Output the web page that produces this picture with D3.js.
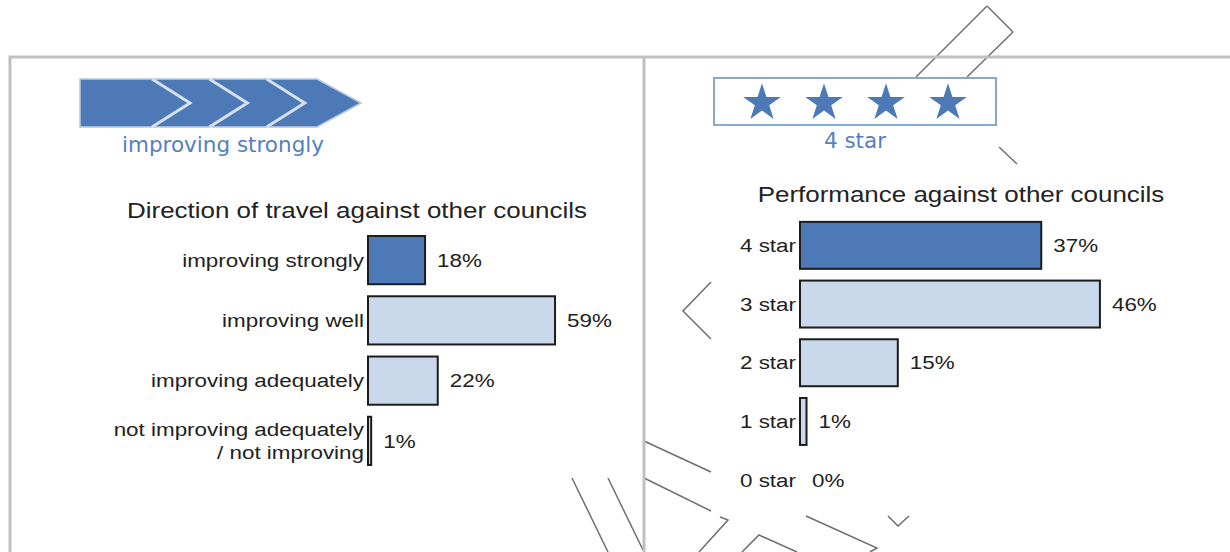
<!DOCTYPE html>
<meta charset="utf-8">
<style>
  body { margin: 0; background: #fff; }
  text.title { font-family: 'Liberation Sans', Arial, sans-serif; font-size: 22px; fill: #222; text-anchor: middle; }
  text.cat { font-family: 'Liberation Sans', Arial, sans-serif; font-size: 19px; fill: #222; text-anchor: end; }
  text.val { font-family: 'Liberation Sans', Arial, sans-serif; font-size: 19px; fill: #222; }
  text.badge { font-family: 'DejaVu Sans', Verdana, sans-serif; font-size: 21.5px; fill: #5480bf; text-anchor: middle; }
</style>
<script src="https://d3js.org/d3.v7.min.js"></script>
<div id="my_dataviz"></div>
<script>

// data
var travelCats = ["improving strongly", "improving well", "improving adequately", "not improving adequately\n/ not improving"];
var travelVals = [18, 59, 22, 1];
var starCats = ["4 star", "3 star", "2 star", "1 star", "0 star"];
var starVals = [37, 46, 15, 1, 0];
var travelBadge = "improving strongly";
var starBadge = "4 star";
var starCount = 4;
var chevronCount = 3;

// stray outline lines in the background of the picture
var decoLines = [
  [[987, 6], [1013, 32]], [[987, 6], [916, 77]], [[1013, 32], [967, 77]],
  [[999, 147], [1017, 164]],
  [[711, 282], [683, 311], [711, 339]],
  [[644, 441], [711, 472]], [[644, 478], [711, 511]],
  [[720, 517], [728, 520], [699, 552]],
  [[572, 478], [608, 552]], [[608, 478], [643, 550]],
  [[742, 552], [759, 535], [797, 552]],
  [[806, 516], [877, 548], [870, 552]],
  [[888, 516], [898, 526], [909, 516]]
];

var W = 1230, H = 552;
var darkBlue = "#4d79b6", lightBlue = "#c9d8ea";
var stretch = 1.18;   // chart lettering is drawn a bit wide

var svg = d3.select("#my_dataviz")
  .append("svg")
    .attr("width", W)
    .attr("height", H);

// background lines
svg.selectAll("path.deco")
  .data(decoLines)
  .enter()
  .append("path")
    .attr("class", "deco")
    .attr("d", d3.line())
    .attr("fill", "none")
    .attr("stroke", "#6e6e6e")
    .attr("stroke-width", 1.5);

// frame
svg.append("path")
  .attr("d", "M10,552 V57 H1230 M644,57 V552")
  .attr("fill", "none")
  .attr("stroke", "#c0c0c0")
  .attr("stroke-width", 3);

// ---------- left panel: direction of travel badge ----------
var ax0 = 80, ax1 = 317, atip = 361, ay0 = 79, ay1 = 127, amid = 103;
svg.append("polygon")
  .attr("points", [[ax0, ay0], [ax1, ay0], [atip, amid], [ax1, ay1], [ax0, ay1]].join(" "))
  .attr("fill", darkBlue)
  .attr("stroke", "#b7c9e3")
  .attr("stroke-width", 1.5);

var chevX = d3.scaleLinear().domain([0, chevronCount]).range([190, atip + 1]);
svg.selectAll("path.chev")
  .data(d3.range(chevronCount))
  .enter()
  .append("path")
    .attr("class", "chev")
    .attr("d", function(i) {
      var t = chevX(i);
      return "M" + (t - 38) + "," + ay0 + " L" + t + "," + amid + " L" + (t - 38) + "," + ay1;
    })
    .attr("fill", "none")
    .attr("stroke", "#d6e1f1")
    .attr("stroke-width", 3);

svg.append("text")
  .attr("class", "badge")
  .attr("x", 223)
  .attr("y", 152)
  .text(travelBadge);

// ---------- right panel: star badge ----------
svg.append("rect")
  .attr("x", 714)
  .attr("y", 78)
  .attr("width", 282)
  .attr("height", 47)
  .attr("fill", "#fff")
  .attr("stroke", "#86a8d5")
  .attr("stroke-width", 2);

var starX = d3.scalePoint().domain(d3.range(starCount)).range([762, 948]);
var star = d3.symbol().type(d3.symbolStar).size(440);
svg.selectAll("path.star")
  .data(d3.range(starCount))
  .enter()
  .append("path")
    .attr("class", "star")
    .attr("d", star)
    .attr("transform", function(i) { return "translate(" + starX(i) + ",103)"; })
    .attr("fill", darkBlue);

svg.append("text")
  .attr("class", "badge")
  .attr("x", 855)
  .attr("y", 148)
  .text(starBadge);

// ---------- bar chart helper ----------
function wide(x, y) { return "translate(" + x + "," + y + ") scale(" + stretch + ",1)"; }

function barChart(g, cats, vals, opt) {
  var x = d3.scaleLinear().domain([0, 100]).range([opt.x0, opt.x0 + opt.perCent * 100]);
  var y = d3.scaleBand()
    .domain(cats)
    .range(opt.yRange)
    .paddingInner(0.2)
    .paddingOuter(0.1);
  var rows = cats.map(function(c, i) { return {cat: c, val: vals[i], i: i}; });

  g.append("text")
    .attr("class", "title")
    .attr("transform", wide(opt.titleX, opt.titleY))
    .text(opt.title);

  g.selectAll("rect.bar")
    .data(rows.filter(function(d) { return d.val > 0; }))
    .enter()
    .append("rect")
      .attr("class", "bar")
      .attr("x", x(0))
      .attr("y", function(d) { return y(d.cat); })
      .attr("width", function(d) { return x(d.val) - x(0); })
      .attr("height", y.bandwidth())
      .attr("fill", function(d) { return d.i == 0 ? darkBlue : lightBlue; })
      .attr("stroke", "#1c1c1c")
      .attr("stroke-width", 2);

  // category labels, may be on two lines
  var lab = g.selectAll("text.cat")
    .data(rows)
    .enter()
    .append("text")
      .attr("class", "cat")
      .attr("transform", function(d) { return wide(x(0) - 4, y(d.cat) + y.bandwidth() / 2); });
  lab.each(function(d) {
    var lines = d.cat.split("\n");
    var t = d3.select(this);
    lines.forEach(function(l, k) {
      t.append("tspan")
        .attr("x", 0)
        .attr("dy", k == 0 ? (0.35 - (lines.length - 1) * 0.6) + "em" : "1.2em")
        .text(l);
    });
  });

  g.selectAll("text.val")
    .data(rows)
    .enter()
    .append("text")
      .attr("class", "val")
      .attr("transform", function(d) { return wide(x(d.val) + 12, y(d.cat) + y.bandwidth() / 2); })
      .attr("dy", "0.35em")
      .text(function(d) { return d.val + "%"; });
}

barChart(svg.append("g"), travelCats, travelVals, {
  x0: 368, perCent: 3.17, yRange: [230, 471],
  title: "Direction of travel against other councils", titleX: 357, titleY: 218
});

barChart(svg.append("g"), starCats, starVals, {
  x0: 800, perCent: 6.52, yRange: [216, 509.5],
  title: "Performance against other councils", titleX: 961, titleY: 202
});

</script>
